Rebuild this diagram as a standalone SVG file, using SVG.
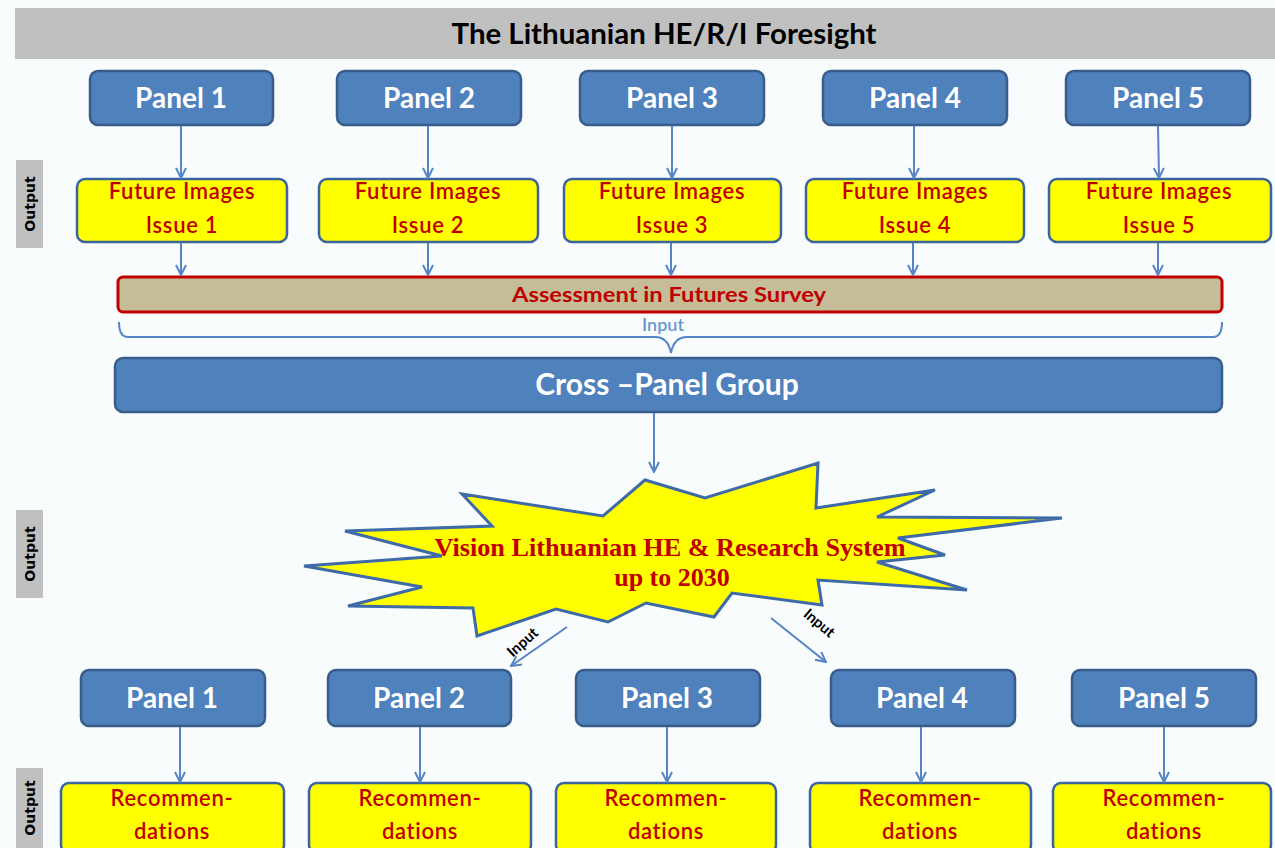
<svg xmlns="http://www.w3.org/2000/svg" width="1275" height="848" viewBox="0 0 1275 848">
<defs>
<style>
.panel{fill:#4f81bd;stroke:#385d8a;stroke-width:2.5}
.ptxt{font-family:Lato,"Open Sans",sans-serif;font-weight:bold;font-size:28px;fill:#fff;text-anchor:middle}
.ybox{fill:#ffff00;stroke:#3a64a0;stroke-width:2.5}
.ytxt{font-family:Lato,"Open Sans",sans-serif;font-size:22px;font-weight:600;fill:#c00000;text-anchor:middle;letter-spacing:0.7px}
.outbox{fill:#c0c0c0}
.outtxt{font-family:"DejaVu Sans",sans-serif;font-weight:bold;font-size:14px;fill:#000;text-anchor:middle}
.conn{stroke:#5585c5;stroke-width:2;fill:none;marker-end:url(#ah)}
.intxt{font-family:Lato,"Open Sans",sans-serif;font-weight:bold;font-size:15px;fill:#000;text-anchor:middle}
</style>
<marker id="ah" viewBox="0 0 12 12" refX="11" refY="6" markerWidth="12" markerHeight="12" markerUnits="userSpaceOnUse" orient="auto">
<path d="M1,1 L11,6 L1,11" fill="none" stroke="#5585c5" stroke-width="2"/>
</marker>
</defs>
<rect width="1275" height="848" fill="#f9fcfc"/>

<g id="title">
<rect x="15" y="8" width="1260" height="51" fill="#c0c0c0"/>
<text x="664" y="44" font-family="Lato,'Open Sans',sans-serif" font-weight="bold" font-size="29" fill="#000" text-anchor="middle" textLength="425" lengthAdjust="spacingAndGlyphs">The Lithuanian HE/R/I Foresight</text>
</g>

<g id="output-labels">
<rect class="outbox" x="16" y="160" width="27" height="88"/>
<text class="outtxt" transform="translate(35,204) rotate(-90)">Output</text>
<rect class="outbox" x="16" y="510" width="27" height="88"/>
<text class="outtxt" transform="translate(35,554) rotate(-90)">Output</text>
<rect class="outbox" x="16" y="768" width="27" height="80"/>
<text class="outtxt" transform="translate(35,808) rotate(-90)">Output</text>
</g>

<g id="panel-top-1"><rect class="panel" x="90" y="71" width="183" height="54" rx="8"/><text class="ptxt" x="181" y="108">Panel 1</text></g>
<g id="panel-top-2"><rect class="panel" x="337" y="71" width="184" height="54" rx="8"/><text class="ptxt" x="429" y="108">Panel 2</text></g>
<g id="panel-top-3"><rect class="panel" x="580" y="71" width="184" height="54" rx="8"/><text class="ptxt" x="672" y="108">Panel 3</text></g>
<g id="panel-top-4"><rect class="panel" x="823" y="71" width="184" height="54" rx="8"/><text class="ptxt" x="915" y="108">Panel 4</text></g>
<g id="panel-top-5"><rect class="panel" x="1066" y="71" width="184" height="54" rx="8"/><text class="ptxt" x="1158" y="108">Panel 5</text></g>

<g id="future-1"><rect class="ybox" x="77" y="179" width="210" height="63" rx="8"/><text class="ytxt" x="182" y="199">Future Images</text><text class="ytxt" x="182" y="233">Issue 1</text></g>
<g id="future-2"><rect class="ybox" x="319" y="179" width="219" height="63" rx="8"/><text class="ytxt" x="428" y="199">Future Images</text><text class="ytxt" x="428" y="233">Issue 2</text></g>
<g id="future-3"><rect class="ybox" x="564" y="179" width="217" height="63" rx="8"/><text class="ytxt" x="672" y="199">Future Images</text><text class="ytxt" x="672" y="233">Issue 3</text></g>
<g id="future-4"><rect class="ybox" x="806" y="179" width="218" height="63" rx="8"/><text class="ytxt" x="915" y="199">Future Images</text><text class="ytxt" x="915" y="233">Issue 4</text></g>
<g id="future-5"><rect class="ybox" x="1049" y="179" width="222" height="63" rx="8"/><text class="ytxt" x="1159" y="199">Future Images</text><text class="ytxt" x="1159" y="233">Issue 5</text></g>

<g id="assessment">
<rect x="118" y="277" width="1104" height="35" rx="5" fill="#c4bd97" stroke="#c00000" stroke-width="3"/>
<text x="669" y="302" font-family="Lato,'Open Sans',sans-serif" font-weight="bold" font-size="21" fill="#c00000" text-anchor="middle" textLength="314" lengthAdjust="spacingAndGlyphs">Assessment in Futures Survey</text>
</g>

<g id="input-brace">
<path d="M119,322 Q119,337 128,337 L655,337 Q668,337 671,353 Q674,337 687,337 L1213,337 Q1222,337 1222,322" fill="none" stroke="#5585c5" stroke-width="2"/>
<text x="663" y="331" font-family="Lato,'Open Sans',sans-serif" font-weight="600" font-size="18" fill="#6a96d0" text-anchor="middle">Input</text>
</g>

<g id="cross-panel">
<rect class="panel" x="115" y="358" width="1107" height="54" rx="8"/>
<text x="667" y="395" font-family="Lato,'Open Sans',sans-serif" font-weight="bold" font-size="30" fill="#fff" text-anchor="middle">Cross –Panel Group</text>
</g>

<g id="vision">
<polygon points="462,494 603,516 645,480 705,498 818,463 816,508 935,490 877,517 1062,518 898,538 945,555 877,562 967,590 818,580 822,605 732,593 714,617 646,603 608,622 556,609 477,636 473,608 348,606 422,587 304,566 442,556 345,531 492,526" fill="#ffff00" stroke="#3f6aa8" stroke-width="3" stroke-linejoin="miter"/>
<text x="670" y="556" font-family="'Liberation Serif',serif" font-weight="bold" font-size="26" fill="#c00000" text-anchor="middle" textLength="471" lengthAdjust="spacingAndGlyphs">Vision Lithuanian HE &amp; Research System</text>
<text x="672" y="586" font-family="'Liberation Serif',serif" font-weight="bold" font-size="26" fill="#c00000" text-anchor="middle">up to 2030</text>
</g>

<g id="panel-bot-1"><rect class="panel" x="81" y="670" width="184" height="56" rx="8"/><text class="ptxt" x="172" y="708">Panel 1</text></g>
<g id="panel-bot-2"><rect class="panel" x="328" y="670" width="183" height="56" rx="8"/><text class="ptxt" x="419" y="708">Panel 2</text></g>
<g id="panel-bot-3"><rect class="panel" x="576" y="670" width="184" height="56" rx="8"/><text class="ptxt" x="667" y="708">Panel 3</text></g>
<g id="panel-bot-4"><rect class="panel" x="831" y="670" width="184" height="56" rx="8"/><text class="ptxt" x="922" y="708">Panel 4</text></g>
<g id="panel-bot-5"><rect class="panel" x="1072" y="670" width="184" height="56" rx="8"/><text class="ptxt" x="1164" y="708">Panel 5</text></g>

<g id="rec-1"><rect class="ybox" x="61" y="783" width="223" height="70" rx="8"/><text class="ytxt" x="172" y="806">Recommen-</text><text class="ytxt" x="172" y="839">dations</text></g>
<g id="rec-2"><rect class="ybox" x="309" y="783" width="222" height="70" rx="8"/><text class="ytxt" x="420" y="806">Recommen-</text><text class="ytxt" x="420" y="839">dations</text></g>
<g id="rec-3"><rect class="ybox" x="556" y="783" width="220" height="70" rx="8"/><text class="ytxt" x="666" y="806">Recommen-</text><text class="ytxt" x="666" y="839">dations</text></g>
<g id="rec-4"><rect class="ybox" x="810" y="783" width="221" height="70" rx="8"/><text class="ytxt" x="920" y="806">Recommen-</text><text class="ytxt" x="920" y="839">dations</text></g>
<g id="rec-5"><rect class="ybox" x="1053" y="783" width="218" height="70" rx="8"/><text class="ytxt" x="1164" y="806">Recommen-</text><text class="ytxt" x="1164" y="839">dations</text></g>

<g id="connectors">
<line class="conn" x1="181" y1="126" x2="181" y2="178"/>
<line class="conn" x1="428" y1="126" x2="428" y2="178"/>
<line class="conn" x1="672" y1="126" x2="672" y2="178"/>
<line class="conn" x1="914" y1="126" x2="914" y2="178"/>
<line class="conn" x1="1158" y1="126" x2="1159" y2="178"/>
<line class="conn" x1="181" y1="243" x2="181" y2="275"/>
<line class="conn" x1="428" y1="243" x2="428" y2="275"/>
<line class="conn" x1="671" y1="243" x2="671" y2="275"/>
<line class="conn" x1="913" y1="243" x2="913" y2="275"/>
<line class="conn" x1="1158" y1="243" x2="1158" y2="275"/>
<line class="conn" x1="654" y1="413" x2="654" y2="472"/>
<line class="conn" x1="567" y1="627" x2="511" y2="666"/>
<line class="conn" x1="771" y1="618" x2="826" y2="662"/>
<line class="conn" x1="180" y1="727" x2="180" y2="782"/>
<line class="conn" x1="420" y1="727" x2="420" y2="782"/>
<line class="conn" x1="667" y1="727" x2="667" y2="782"/>
<line class="conn" x1="921" y1="727" x2="921" y2="782"/>
<line class="conn" x1="1164" y1="727" x2="1164" y2="782"/>
<text class="intxt" transform="translate(526,646) rotate(-42)">Input</text>
<text class="intxt" transform="translate(816,627) rotate(40)">Input</text>
</g>
</svg>
